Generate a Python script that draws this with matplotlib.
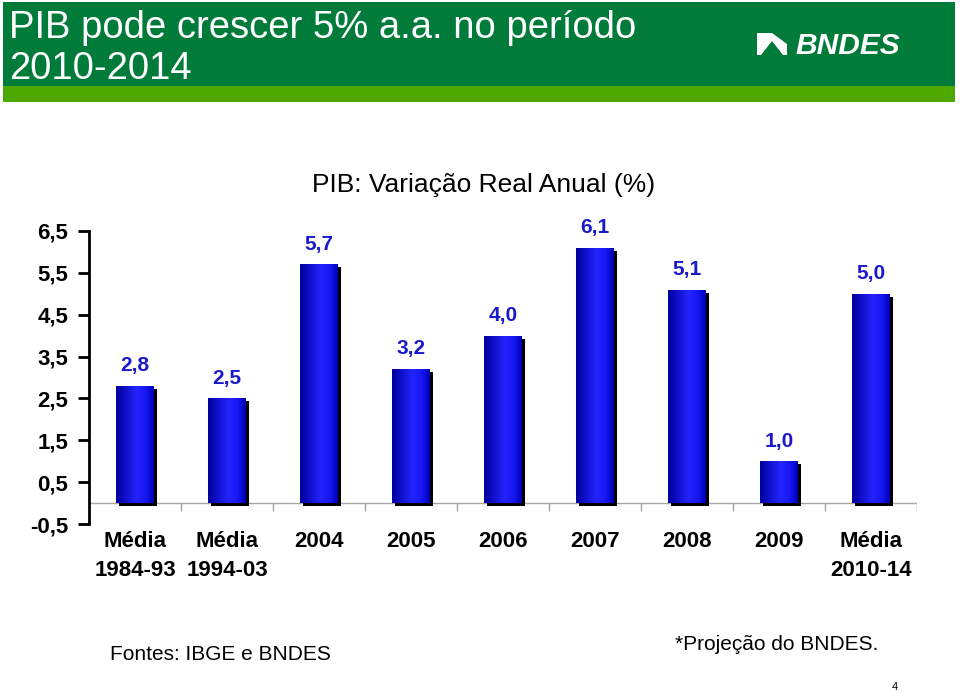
import numpy as np
import matplotlib
matplotlib.use('Agg')
from matplotlib import pyplot as plt
from matplotlib import transforms
from matplotlib.colors import LinearSegmentedColormap
from matplotlib.patches import Rectangle, Polygon

plt.rcParams['font.family'] = ['Liberation Sans', 'DejaVu Sans']

# data
categories = ['Média\n1984-93', 'Média\n1994-03', '2004', '2005', '2006',
              '2007', '2008', '2009', 'Média\n2010-14']
values = [2.8, 2.5, 5.7, 3.2, 4.0, 6.1, 5.1, 1.0, 5.0]
yticks = [6.5, 5.5, 4.5, 3.5, 2.5, 1.5, 0.5, -0.5]

W, H = 960, 693
fig = plt.figure(figsize=(W / 100, H / 100), dpi=100)


def fx(px):
    return px / W


def fy(py):
    return 1 - py / H


# header bands
fig.add_artist(Rectangle((fx(3), fy(86)), fx(952), 84 / H, transform=fig.transFigure,
                         color='#007B3A', lw=0))
fig.add_artist(Rectangle((fx(3), fy(102)), fx(952), 16 / H, transform=fig.transFigure,
                         color='#4FA800', lw=0))
fig.text(fx(9), fy(38), 'PIB pode crescer 5% a.a. no período', color='white',
         fontsize=27.5, va='baseline', ha='left')
fig.text(fx(9), fy(79), '2010-2014', color='white', fontsize=27.5, va='baseline', ha='left')

# BNDES logo (rough)
fig.add_artist(Polygon([(fx(757), fy(55)), (fx(757), fy(33)), (fx(772), fy(33)),
                        (fx(787), fy(44)), (fx(787), fy(55))],
                       transform=fig.transFigure, color='white', lw=0))
fig.add_artist(Polygon([(fx(761), fy(55)), (fx(772), fy(41)), (fx(783), fy(55))],
                       transform=fig.transFigure, color='#007B3A', lw=0))
fig.text(fx(795), fy(54), 'BNDES', color='white', fontsize=21.5, fontweight='bold',
         style='italic', va='baseline', ha='left')

fig.text(0.504, fy(185), 'PIB: Variação Real Anual (%)', fontsize=19,
         ha='center', va='center')

ax = fig.add_axes([fx(89), 1 - 524 / H, 828 / W, 293 / H])
x = np.arange(len(values))
bw = 0.41

shadow = transforms.offset_copy(ax.transData, fig=fig, x=3, y=-3, units='dots')
ax.bar(x, values, bw, color='black', transform=shadow, zorder=2)
bars = ax.bar(x, values, bw, color='#1010E0', zorder=3)

cmap = LinearSegmentedColormap.from_list(
    'barblue', [(0, '#00009C'), (0.55, '#2424FF'), (0.8, '#1616F2'), (1, '#0000B8')])
grad = np.linspace(0, 1, 64).reshape(1, -1)
for b in bars:
    x0, w, h = b.get_x(), b.get_width(), b.get_height()
    im = ax.imshow(grad, cmap=cmap, extent=[x0, x0 + w, 0, h], aspect='auto',
                   zorder=4, interpolation='bilinear')
    im.set_clip_path(b)

for i, v in enumerate(values):
    ax.annotate(f'{v:.1f}'.replace('.', ','), (x[i], v), xytext=(0, 14.5),
                textcoords='offset points', ha='center', va='center',
                color='#1A1ACC', fontsize=15, fontweight='bold')

ax.axhline(0, color='#A8A8A8', lw=1, zorder=1)
ax.vlines(np.arange(0.5, len(values), 1), -0.19, 0, color='#A8A8A8', lw=1)

ax.set_xlim(-0.5, len(values) - 0.5)
ax.set_ylim(-0.5, 6.5)
for s in ['top', 'right', 'bottom']:
    ax.spines[s].set_visible(False)
ax.spines['left'].set_linewidth(2)
ax.set_yticks(yticks)
ax.set_yticklabels([f'{t:.1f}'.replace('.', ',') for t in yticks],
                   fontsize=16, fontweight='bold')
ax.tick_params(axis='y', length=8, width=2, pad=7)
ax.set_xticks(x)
ax.set_xticklabels(categories, fontsize=16, fontweight='bold', linespacing=1.5)
ax.tick_params(axis='x', length=0, pad=5)

fig.text(fx(110), fy(655), 'Fontes: IBGE e BNDES', fontsize=15, va='center', ha='left')
fig.text(fx(675), fy(644), '*Projeção do BNDES.', fontsize=15, va='center', ha='left')
fig.text(fx(895), fy(687), '4', fontsize=8, va='center', ha='center')

plt.savefig('out.png', dpi=100)
